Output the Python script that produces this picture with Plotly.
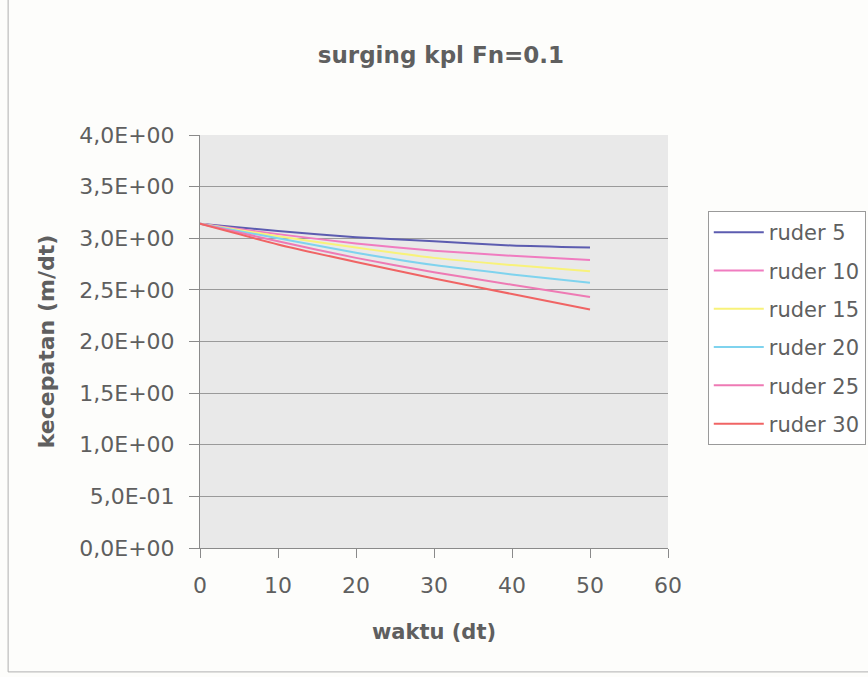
import plotly.graph_objects as go

# time (s)
t = [0, 10, 20, 30, 40, 50]

# speeds (m/s)
ruder5 = [3.14, 3.07, 3.01, 2.97, 2.93, 2.91]
ruder10 = [3.14, 3.04, 2.95, 2.88, 2.83, 2.79]
ruder15 = [3.14, 3.02, 2.91, 2.81, 2.74, 2.68]
ruder20 = [3.14, 3.00, 2.86, 2.74, 2.65, 2.57]
ruder25 = [3.14, 2.97, 2.81, 2.67, 2.55, 2.43]
ruder30 = [3.14, 2.94, 2.77, 2.61, 2.46, 2.31]

series_names = ["ruder 5", "ruder 10", "ruder 15", "ruder 20", "ruder 25", "ruder 30"]
series_values = [ruder5, ruder10, ruder15, ruder20, ruder25, ruder30]
colors = ["#5c5cb0", "#f07cc0", "#f8f27a", "#7fd3ee", "#ee7ab4", "#f06464"]

ytick_vals = [0, 0.5, 1.0, 1.5, 2.0, 2.5, 3.0, 3.5, 4.0]
ytick_text = ["0,0E+00", "5,0E-01", "1,0E+00", "1,5E+00", "2,0E+00",
              "2,5E+00", "3,0E+00", "3,5E+00", "4,0E+00"]
xtick_vals = [0, 10, 20, 30, 40, 50, 60]

FONT = "DejaVu Sans, Liberation Sans, Arial, sans-serif"
GRAY = "#5f5f5f"

fig = go.Figure()
for name, vals, c in zip(series_names, series_values, colors):
    fig.add_trace(go.Scatter(
        x=t, y=vals, name=name, mode="lines", legendgroup=name,
        line=dict(color=c, width=2, shape="spline", smoothing=0.6),
    ))

fig.update_layout(
    width=868, height=677,
    margin=dict(l=200, r=200, t=135, b=129, autoexpand=False),
    paper_bgcolor="#fdfdfb",
    plot_bgcolor="#e9e9e9",
    font=dict(family=FONT, color=GRAY, size=21),
    title=dict(text="<b>surging kpl Fn=0.1</b>", x=0.508, xanchor="center",
               yref="container", y=0.919, yanchor="middle",
               font=dict(size=23, color=GRAY, family=FONT)),
    showlegend=True,
    legend=dict(x=1.085, xanchor="left", y=0.816, yanchor="top",
                bgcolor="#ffffff", bordercolor="#9a9a9a", borderwidth=1,
                font=dict(size=21, color=GRAY, family=FONT),
                itemwidth=50, tracegroupgap=8),
)
fig.update_xaxes(
    range=[0, 60], tickvals=xtick_vals, showgrid=False, zeroline=False,
    showline=True, linecolor="#8a8a8a", linewidth=1,
    ticks="outside", ticklen=9, tickcolor="#8a8a8a",
    tickfont=dict(size=22, color=GRAY), ticklabelstandoff=9,
    title=dict(text="<b>waktu (dt)</b>", font=dict(size=21, color=GRAY), standoff=26),
)
fig.update_yaxes(
    range=[0, 4], tickvals=ytick_vals, ticktext=ytick_text,
    showgrid=True, gridcolor="#9a9a9a", gridwidth=1, zeroline=False,
    showline=True, linecolor="#8a8a8a", linewidth=1,
    ticks="outside", ticklen=10, tickcolor="#8a8a8a",
    tickfont=dict(size=22, color=GRAY), ticklabelstandoff=10,
    title=dict(text="<b>kecepatan (m/dt)</b>", font=dict(size=22, color=GRAY), standoff=18),
)
# outer chart border
fig.add_shape(type="rect", xref="paper", yref="paper",
              x0=-0.410, x1=1.45, y0=-0.300, y1=1.33,
              line=dict(color="#b0b0b0", width=1), layer="below")

fig.write_html("out.html")
